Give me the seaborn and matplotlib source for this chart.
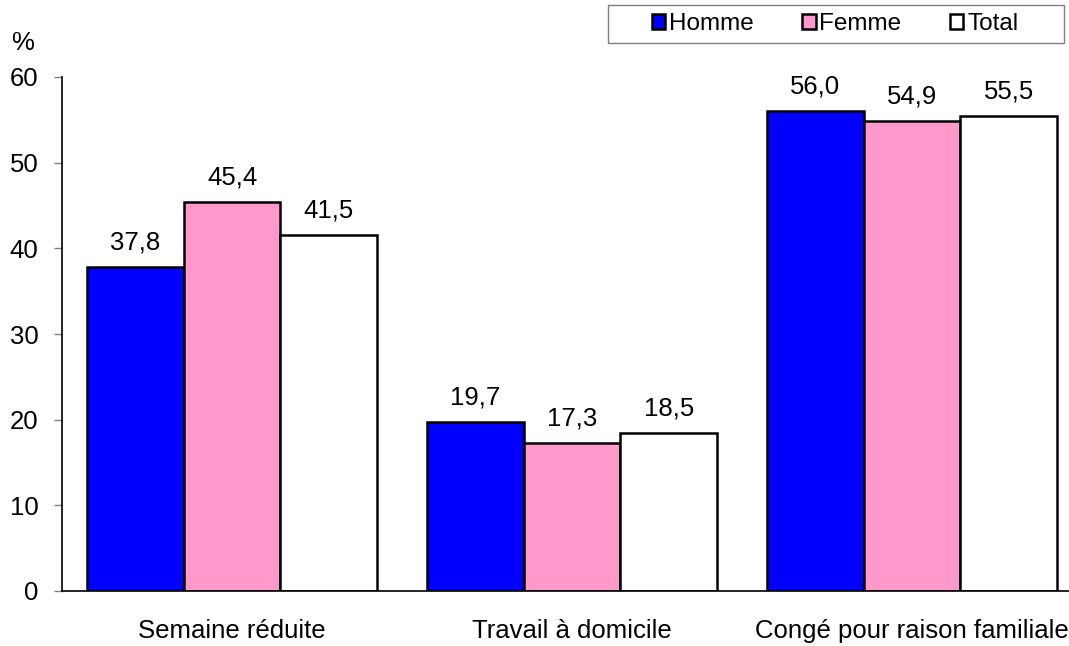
import pandas as pd
import matplotlib.pyplot as plt
import seaborn as sns
from matplotlib.patches import Rectangle

# Data
categories = ['Semaine réduite', 'Travail à domicile', 'Congé pour raison familiale']
groups = ['Homme', 'Femme', 'Total']
homme = [37.8, 19.7, 56.0]
femme = [45.4, 17.3, 54.9]
total = [41.5, 18.5, 55.5]
colors = ['#0000FF', '#FF99CC', '#FFFFFF']

df = pd.DataFrame({
    'categorie': categories * 3,
    'groupe': [g for g in groups for _ in categories],
    'valeur': homme + femme + total,
})

sns.set_style('white')
plt.rcParams['font.family'] = ['Liberation Sans', 'DejaVu Sans']
plt.rcParams['text.color'] = 'black'

fs = 18.5
W, H = 1069, 646

fig = plt.figure(figsize=(W / 100, H / 100), dpi=100)
ax = fig.add_axes([62 / W, 55 / H, 1020 / W, 514 / H])

sns.barplot(data=df, x='categorie', y='valeur', hue='groupe', order=categories,
            hue_order=groups, palette=colors, width=0.853, gap=0,
            edgecolor='black', linewidth=1.8, saturation=1, ax=ax)

# Value labels with French decimal comma
for cont in ax.containers:
    labels = [f"{b.get_height():.1f}".replace('.', ',') for b in cont]
    ax.bar_label(cont, labels=labels, padding=9, fontsize=fs, color='black')

ax.set_xlim(-0.5, 2.5)
ax.set_ylim(0, 60)
ax.set_yticks(range(0, 61, 10))
ax.set_xlabel('')
ax.set_ylabel('')

# Ticks: y ticks outward, x ticks at category boundaries only
ax.set_xticks([-0.5, 0.5, 1.5, 2.5], minor=True)
ax.tick_params(axis='x', which='major', length=0, labelsize=fs, pad=20, labelcolor='black')
ax.tick_params(axis='x', which='minor', length=7, width=1, color='gray', direction='out')
ax.tick_params(axis='y', which='major', length=6, width=1, color='gray', direction='out',
               labelsize=fs, pad=11, left=True, labelcolor='black')

sns.despine(ax=ax)
for s in ['left', 'bottom']:
    ax.spines[s].set_color('black')
    ax.spines[s].set_linewidth(1.2)

fig.text(11 / W, 1 - 43 / H, '%', fontsize=fs, va='center', ha='left')

# Legend: frame drawn separately, entries placed inside it
fig.patches.append(Rectangle((608 / W, 1 - 43 / H), 456 / W, 38 / H,
                             transform=fig.transFigure, facecolor='white',
                             edgecolor='gray', linewidth=1, zorder=-1))
leg = ax.legend(loc='center left', bbox_to_anchor=(652 / W, 1 - 24 / H),
                bbox_transform=fig.transFigure, ncol=3, fontsize=17.5, frameon=False,
                handlelength=0.55, handleheight=0.55, handletextpad=0.15,
                columnspacing=2.0, borderpad=0, borderaxespad=0, title=None)
for t in leg.get_texts():
    t.set_color('black')

plt.savefig('out.png', dpi=100)
